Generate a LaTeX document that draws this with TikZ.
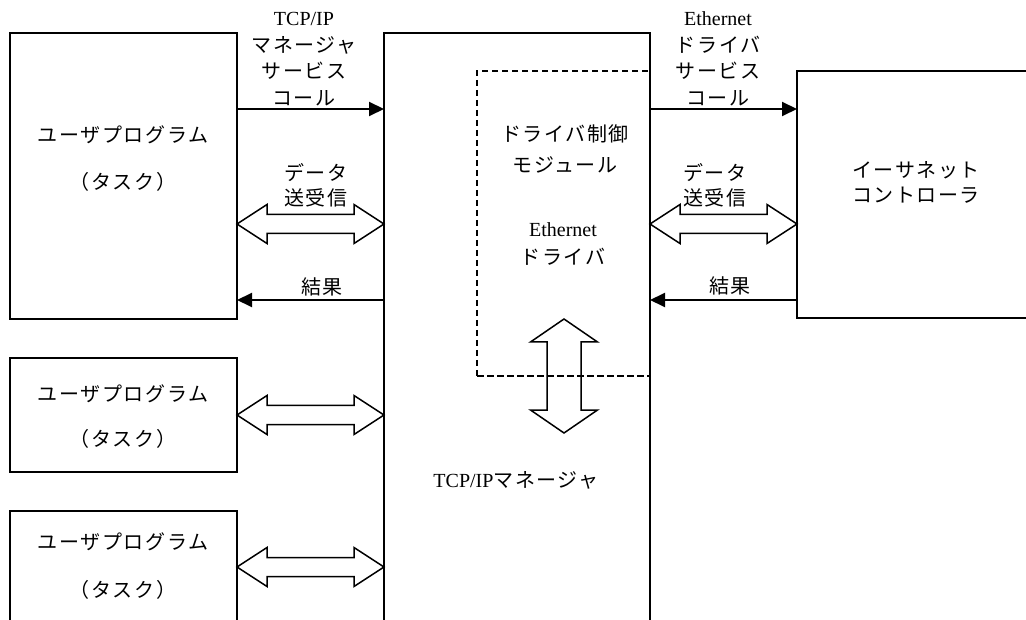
\documentclass[tikz,border=0pt]{standalone}
\usepackage{fontspec}
\setmainfont{Liberation Serif}
\newfontfamily\jpf[LetterSpace=8]{Noto Sans CJK JP}
\usetikzlibrary{arrows.meta,calc}
\newcommand\jp[1]{{\jpf #1}}
\newcommand\hdarrow[2]{%
  \draw[darr] (#1) -- ($(#1)+(30,-19.5)$) -- ($(#1)+(30,-9.5)$) -- ($(#2)+(-30,-9.5)$) -- ($(#2)+(-30,-19.5)$) -- (#2)
   -- ($(#2)+(-30,19.5)$) -- ($(#2)+(-30,9.5)$) -- ($(#1)+(30,9.5)$) -- ($(#1)+(30,19.5)$) -- cycle;}
\newcommand\vdarrow[2]{%
  \draw[darr] (#1) -- ($(#1)+(33.5,23)$) -- ($(#1)+(17,23)$) -- ($(#2)+(17,-23)$) -- ($(#2)+(33.5,-23)$) -- (#2)
   -- ($(#2)+(-33.5,-23)$) -- ($(#2)+(-17,-23)$) -- ($(#1)+(-17,23)$) -- ($(#1)+(-33.5,23)$) -- cycle;}
\begin{document}
\begin{tikzpicture}[x=1pt,y=-1pt,
  box/.style={draw,line width=1.3pt,inner sep=0pt,outer sep=0pt},
  dbox/.style={draw,line width=1.6pt,dash pattern=on 6.5pt off 3.5pt,inner sep=0pt,outer sep=0pt},
  txt/.style={font=\fontsize{20}{26}\selectfont,align=center,inner sep=0pt},
  sarr/.style={line width=2pt,-{Triangle[length=15pt,width=14pt]}},
  darr/.style={line width=1.5pt,line join=miter}]
\useasboundingbox (0,0) rectangle (1026,620);
\clip (0,0) rectangle (1026,620);
% boxes
\node[box,minimum width=227pt,minimum height=286pt] (u1) at (123.5,176) {};
\node[box,minimum width=227pt,minimum height=114pt] (u2) at (123.5,415) {};
\node[box,minimum width=227pt,minimum height=149pt] (u3) at (123.5,585.5) {};
\node[box,minimum width=266pt,minimum height=627pt] (mgr) at (517,346.5) {};
\node[dbox,minimum width=173pt,minimum height=305pt] (drv) at (563.5,223.5) {};
\node[box,minimum width=263pt,minimum height=247pt] (eth) at (928.5,194.5) {};
% box texts
\node[txt] (u1a) at (123,135) {\jp{ユーザプログラム}};
\node[txt] (u1b) at (123,182) {\jp{（タスク）}};
\node[txt] (u2a) at (123,394) {\jp{ユーザプログラム}};
\node[txt] (u2b) at (123,439) {\jp{（タスク）}};
\node[txt] (u3a) at (123,542) {\jp{ユーザプログラム}};
\node[txt] (u3b) at (123,590) {\jp{（タスク）}};
\node[txt] (mgrt) at (516,480) {TCP/IP\jp{マネージャ}};
\node[txt,font=\fontsize{20}{31}\selectfont] (drvt1) at (565,148.5) {\jp{ドライバ制御}\\\jp{モジュール}};
\node[txt,font=\fontsize{20}{28}\selectfont] (drvt2) at (563,244) {Ethernet\\\jp{ドライバ}};
\node[txt,font=\fontsize{20}{25}\selectfont] (etht) at (916,182.5) {\jp{イーサネット}\\\jp{コントローラ}};
% coordinates for connectors
\coordinate (c1a) at (u1.east |- 0,109);  \coordinate (c1b) at (mgr.west |- 0,109);
\coordinate (d1a) at (u1.east |- 0,224);  \coordinate (d1b) at (mgr.west |- 0,224);
\coordinate (r1a) at (mgr.west |- 0,300); \coordinate (r1b) at (u1.east |- 0,300);
\coordinate (d2a) at (u2.east |- 0,415);  \coordinate (d2b) at (mgr.west |- 0,415);
\coordinate (d3a) at (u3.east |- 0,567);  \coordinate (d3b) at (mgr.west |- 0,567);
\coordinate (c2a) at (mgr.east |- 0,109); \coordinate (c2b) at (eth.west |- 0,109);
\coordinate (d4a) at (mgr.east |- 0,224); \coordinate (d4b) at (eth.west |- 0,224);
\coordinate (r2a) at (eth.west |- 0,300); \coordinate (r2b) at (mgr.east |- 0,300);
\coordinate (va) at (564,319); \coordinate (vb) at (564,433);
% connectors
\draw[sarr] (c1a) -- (c1b);
\draw[sarr] (r1a) -- (r1b);
\draw[sarr] (c2a) -- (c2b);
\draw[sarr] (r2a) -- (r2b);
\hdarrow{d1a}{d1b}
\hdarrow{d2a}{d2b}
\hdarrow{d3a}{d3b}
\hdarrow{d4a}{d4b}
\vdarrow{va}{vb}
% connector labels
\node[txt,font=\fontsize{20}{26.5}\selectfont] (lc1) at (304,59) {TCP/IP\\\jp{マネージャ}\\\jp{サービス}\\\jp{コール}};
\node[txt,font=\fontsize{20}{25}\selectfont] (ld1) at (316,185.5) {\jp{データ}\\\jp{送受信}};
\node[txt] (lr1) at (322,287) {\jp{結果}};
\node[txt,font=\fontsize{20}{26.5}\selectfont] (lc2) at (718,59) {Ethernet\\\jp{ドライバ}\\\jp{サービス}\\\jp{コール}};
\node[txt,font=\fontsize{20}{25}\selectfont] (ld2) at (715,185.5) {\jp{データ}\\\jp{送受信}};
\node[txt] (lr2) at (730,286) {\jp{結果}};
\end{tikzpicture}
\end{document}
